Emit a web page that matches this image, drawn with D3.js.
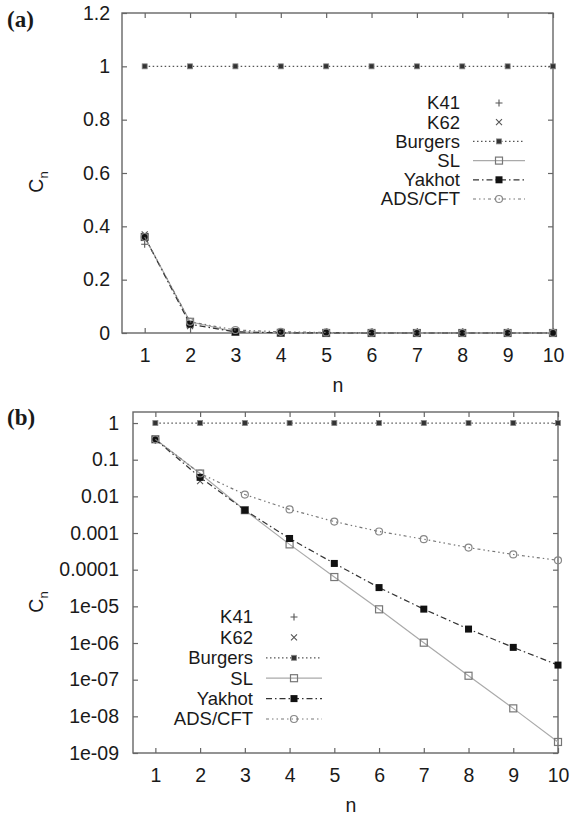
<!DOCTYPE html>
<meta charset="utf-8">
<style>
body { margin: 0; background: #fff; }
text { font-family: "Liberation Sans", Arial, Helvetica, sans-serif; fill: #1a1a1a; }
.frame { fill: none; stroke: #666; stroke-width: 1.4; }
.tick line { stroke: #666; stroke-width: 1.2; }
.tick text { font-size: 19.5px; fill: #1a1a1a; }
.panel-tag { font-family: "Liberation Serif", "Times New Roman", serif; font-weight: bold; font-size: 23px; }
</style>
<body></body>

<script src="https://d3js.org/d3.v7.min.js"></script>
<script>
// moments n
var nValues = [1, 2, 3, 4, 5, 6, 7, 8, 9, 10];

// C_n per model
var k41N = [1];
var k41Values = [0.333];
var k62N = [1, 2];
var k62Values = [0.37, 0.026];
var burgersValues = [1, 1, 1, 1, 1, 1, 1, 1, 1, 1];
var slValues = [0.36, 0.042, 0.0042, 0.00049, 6.3e-5, 8.3e-6, 1.02e-6, 1.28e-7, 1.65e-8, 2.0e-9];
var yakhotValues = [0.36, 0.033, 0.0042, 7.1e-4, 1.48e-4, 3.25e-5, 8.4e-6, 2.4e-6, 7.6e-7, 2.5e-7];
var adsValues = [0.36, 0.042, 0.0112, 0.0044, 0.00205, 0.0011, 6.8e-4, 4.0e-4, 2.6e-4, 1.8e-4];

// tick labels
var linTicks = [0, 0.2, 0.4, 0.6, 0.8, 1, 1.2];
var linTickLabels = ["0", "0.2", "0.4", "0.6", "0.8", "1", "1.2"];
var logTicks = [1e-9, 1e-8, 1e-7, 1e-6, 1e-5, 1e-4, 1e-3, 1e-2, 1e-1, 1];
var logTickLabels = ["1e-09", "1e-08", "1e-07", "1e-06", "1e-05", "0.0001", "0.001", "0.01", "0.1", "1"];

var series = [
  {name: "K41", n: k41N, v: k41Values, line: false, marker: "plus"},
  {name: "K62", n: k62N, v: k62Values, line: false, marker: "cross"},
  {name: "Burgers", n: nValues, v: burgersValues, line: true, stroke: "#555", dash: "1.5,2.5", width: 1.2, marker: "smallsq"},
  {name: "SL", n: nValues, v: slValues, line: true, stroke: "#aaa", dash: null, width: 1.2, marker: "opensq"},
  {name: "Yakhot", n: nValues, v: yakhotValues, line: true, stroke: "#333", dash: "6,3,1.5,3", width: 1.2, marker: "fillsq"},
  {name: "ADS/CFT", n: nValues, v: adsValues, line: true, stroke: "#777", dash: "3,3,1.5,3,1.5,3", width: 1.2, marker: "circle"}
];

var svg = d3.select("body").append("svg")
    .attr("width", 570)
    .attr("height", 815);

function drawMarker(sel, type, cx, cy) {
  if (type == "plus") {
    sel.append("path").attr("d", "M" + (cx - 3.5) + "," + cy + "h7M" + cx + "," + (cy - 3.5) + "v7")
      .attr("stroke", "#555").attr("stroke-width", 1.1).attr("fill", "none");
  } else if (type == "cross") {
    sel.append("path").attr("d", "M" + (cx - 3) + "," + (cy - 3) + "l6,6M" + (cx - 3) + "," + (cy + 3) + "l6,-6")
      .attr("stroke", "#555").attr("stroke-width", 1.1).attr("fill", "none");
  } else if (type == "smallsq") {
    sel.append("rect").attr("x", cx - 2.5).attr("y", cy - 2.5).attr("width", 5).attr("height", 5)
      .attr("fill", "#333").attr("stroke", "#888").attr("stroke-width", 0.8);
  } else if (type == "opensq") {
    sel.append("rect").attr("x", cx - 3.5).attr("y", cy - 3.5).attr("width", 7).attr("height", 7)
      .attr("fill", "none").attr("stroke", "#777").attr("stroke-width", 1.2);
  } else if (type == "fillsq") {
    sel.append("rect").attr("x", cx - 3.5).attr("y", cy - 3.5).attr("width", 7).attr("height", 7)
      .attr("fill", "#111");
  } else if (type == "circle") {
    sel.append("circle").attr("cx", cx).attr("cy", cy).attr("r", 3.5)
      .attr("fill", "none").attr("stroke", "#888").attr("stroke-width", 1.2);
  }
}

function panel(opt) {
  var w = opt.right - opt.left,
      h = opt.bottom - opt.top;
  var g = svg.append("g")
      .attr("transform", "translate(" + opt.left + "," + opt.top + ")");

  var x = d3.scaleLinear().domain([0.5, 10]).range([0, w]);
  var y = opt.log
      ? d3.scaleLog().domain([1e-9, 2]).range([h, 0])
      : d3.scaleLinear().domain([0, 1.2]).range([h, 0]);
  var yTicks = opt.log ? logTicks : linTicks;
  var yLabels = opt.log ? logTickLabels : linTickLabels;

  // axes, ticks pointing inward
  g.append("g")
      .attr("transform", "translate(0," + h + ")")
      .call(d3.axisBottom(x).tickValues(nValues).tickFormat(d3.format("d"))
        .tickSizeInner(-5).tickSizeOuter(0).tickPadding(15));
  g.append("g")
      .call(d3.axisLeft(y).tickValues(yTicks).tickFormat(function(d, i) { return yLabels[i]; })
        .tickSizeInner(-5).tickSizeOuter(0).tickPadding(opt.log ? 14 : 12));
  g.append("g")
      .call(d3.axisTop(x).tickValues(nValues).tickFormat("").tickSizeInner(-5).tickSizeOuter(0));
  g.append("g")
      .attr("transform", "translate(" + w + ",0)")
      .call(d3.axisRight(y).tickValues(yTicks).tickFormat("").tickSizeInner(-5).tickSizeOuter(0));
  g.selectAll(".domain").remove();

  g.append("rect").attr("class", "frame")
      .attr("width", w).attr("height", h);

  // series
  series.forEach(function(s) {
    var pts = s.n.map(function(n, i) { return {n: n, v: s.v[i]}; });
    if (s.line) {
      g.append("path")
          .datum(pts)
          .attr("fill", "none")
          .attr("stroke", s.stroke)
          .attr("stroke-width", s.width)
          .attr("stroke-dasharray", s.dash)
          .attr("d", d3.line().x(function(d) { return x(d.n); }).y(function(d) { return y(d.v); }));
    }
    pts.forEach(function(d) {
      drawMarker(g, s.marker, x(d.n), y(d.v));
    });
  });

  // legend
  var lg = svg.append("g");
  series.forEach(function(s, i) {
    var ly = opt.legY + i * opt.legDy;
    lg.append("text")
        .attr("x", opt.legText).attr("y", ly).attr("dy", "0.35em")
        .attr("text-anchor", "end").style("font-size", "18.5px")
        .text(s.name);
    if (s.line) {
      lg.append("line")
          .attr("x1", opt.legLine[0]).attr("x2", opt.legLine[1])
          .attr("y1", ly).attr("y2", ly)
          .attr("stroke", s.stroke).attr("stroke-width", s.width)
          .attr("stroke-dasharray", s.dash);
    }
    drawMarker(lg, s.marker, (opt.legLine[0] + opt.legLine[1]) / 2, ly);
  });

  // axis titles
  svg.append("text")
      .attr("x", opt.nX).attr("y", opt.bottom + 52).attr("dy", "0.35em")
      .attr("text-anchor", "middle").style("font-size", "19.5px")
      .text("n");
  var yl = svg.append("text")
      .attr("transform", "translate(43," + opt.ylabY + ") rotate(-90)")
      .attr("text-anchor", "middle").style("font-size", "19.5px");
  yl.append("tspan").text("C");
  yl.append("tspan").attr("dy", 5).style("font-size", "13px").text("n");

  svg.append("text").attr("class", "panel-tag")
      .attr("x", 7).attr("y", opt.tagY)
      .text(opt.tag);
}

panel({left: 122, right: 553, top: 13, bottom: 333, log: false,
       legY: 103, legDy: 19.2, legText: 460, legLine: [473, 525],
       ylabY: 182, tag: "(a)", tagY: 27, nX: 338});
panel({left: 133, right: 558, top: 412, bottom: 753, log: true,
       legY: 617, legDy: 20.4, legText: 253, legLine: [266, 322],
       ylabY: 602, tag: "(b)", tagY: 425, nX: 351});
</script>
